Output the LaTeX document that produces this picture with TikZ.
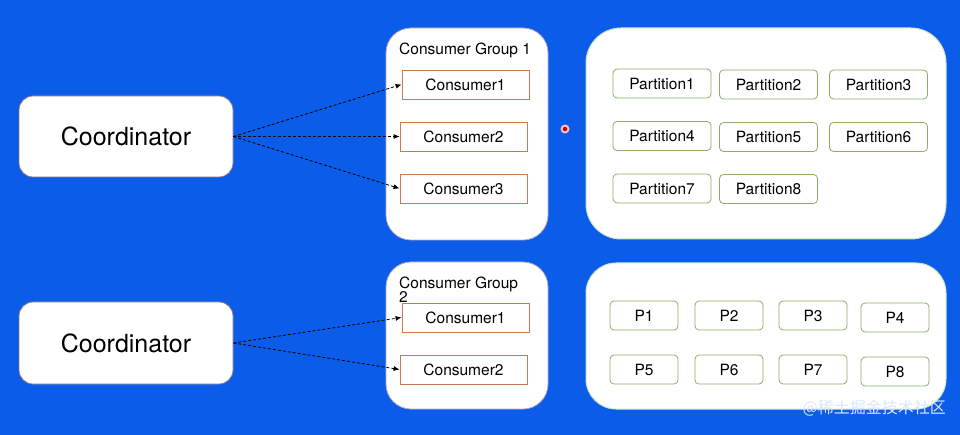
\documentclass[tikz,border=0pt]{standalone}
\usepackage{fontspec}
\setmainfont{TeX Gyre Heros}
\newfontfamily\cjk{Noto Sans CJK SC}
\usetikzlibrary{arrows.meta}
\definecolor{bgblue}{HTML}{0B5CE8}
\definecolor{consborder}{HTML}{C47A52}
\definecolor{partborder}{HTML}{8CAE64}
\definecolor{coordborder}{HTML}{8A7A86}
\definecolor{panelborder}{HTML}{C8E4CC}
\definecolor{grpborder}{HTML}{B8A8C8}
\tikzset{
  coordbox/.style={draw=coordborder, line width=0.8pt, fill=white, rounded corners=14pt, minimum width=214pt, minimum height=81pt, inner sep=0pt, font=\fontsize{25}{28}\selectfont},
  grpbox/.style={draw=grpborder, line width=0.8pt, fill=white, rounded corners=25pt, minimum width=162pt, inner sep=0pt},
  panelbox/.style={draw=panelborder, line width=1pt, fill=white, inner sep=0pt, minimum width=360pt},
  consbox/.style={draw=consborder, line width=0.8pt, fill=white, minimum width=127pt, minimum height=29pt, inner sep=0pt, font=\fontsize{15.5}{18}\selectfont},
  partbox/.style={draw=partborder, line width=0.8pt, fill=white, rounded corners=4pt, minimum width=98pt, minimum height=29pt, inner sep=0pt, font=\fontsize{15.5}{18}\selectfont},
  pbox/.style={draw=partborder, line width=0.8pt, fill=white, rounded corners=4pt, minimum width=68pt, minimum height=29pt, inner sep=0pt, font=\fontsize{15.5}{18}\selectfont},
  grptitle/.style={inner sep=0pt, font=\fontsize{15.5}{16}\selectfont, align=left},
  conn/.style={draw=black, line width=0.8pt, dash pattern=on 3pt off 2pt, -{Latex[length=6pt,width=5pt]}},
}
\begin{document}
\begin{tikzpicture}[x=1pt,y=-1pt]
\fill[bgblue] (0,0) rectangle (960,435);
\useasboundingbox (0,0) rectangle (960,435);

% coordinators
\node[coordbox] (co1) at (126,136.5) {Coordinator};
\node[coordbox, minimum height=82pt] (co2) at (126,343) {Coordinator};

% consumer groups
\node[grpbox, minimum height=212pt] (g1) at (467,134) {};
\node[grpbox, minimum height=147pt] (g2) at (467,335.5) {};
\node[grptitle, anchor=west] (g1t) at (399,50) {Consumer Group 1};
\node[grptitle, anchor=north west] (g2t) at (399,277) {Consumer Group\\[-2pt]2};

\node[consbox] (g1c1) at (465.5,84.5) {Consumer1};
\node[consbox] (g1c2) at (463.5,136.5) {Consumer2};
\node[consbox] (g1c3) at (463.5,188.5) {Consumer3};
\node[consbox] (g2c1) at (465.5,317.5) {Consumer1};
\node[consbox] (g2c2) at (463.5,369.5) {Consumer2};

% partition panels
\node[panelbox, rounded corners=35pt, minimum height=211pt] (pp1) at (766,133.5) {};
\node[panelbox, rounded corners=30pt, minimum height=146pt] (pp2) at (766,336) {};

\node[partbox] (pa1) at (662,83.5) {Partition1};
\node[partbox] (pa2) at (768.5,84.5) {Partition2};
\node[partbox] (pa3) at (878.5,84.5) {Partition3};
\node[partbox] (pa4) at (662,136) {Partition4};
\node[partbox] (pa5) at (768.5,137) {Partition5};
\node[partbox] (pa6) at (878.5,137) {Partition6};
\node[partbox] (pa7) at (662,188.5) {Partition7};
\node[partbox] (pa8) at (768.5,189) {Partition8};

\node[pbox] (p1) at (644,315.5) {P1};
\node[pbox] (p2) at (729,315.5) {P2};
\node[pbox] (p3) at (813,315.5) {P3};
\node[pbox] (p4) at (895,317.5) {P4};
\node[pbox] (p5) at (644,369.5) {P5};
\node[pbox] (p6) at (729,369.5) {P6};
\node[pbox] (p7) at (813,369.5) {P7};
\node[pbox] (p8) at (895,371.5) {P8};

% connectors
\draw[conn] (co1.east) -- (g1c1.west);
\draw[conn] (co1.east) -- (g1c2.west);
\draw[conn] (co1.east) -- (g1c3.west);
\draw[conn] (co2.east) -- (g2c1.west);
\draw[conn] (co2.east) -- (g2c2.west);

% red dot
\node[circle, fill=red!25, inner sep=0pt, minimum size=9pt] (dothalo) at (565,129) {};
\node[circle, fill=red!80!black, inner sep=0pt, minimum size=4.5pt] (dot) at (565,129) {};

% credit
\node[anchor=east, inner sep=0pt, text=white!85!bgblue, font=\cjk\fontsize{16}{18}\selectfont] (credit) at (946,408) {@稀土掘金技术社区};
\end{tikzpicture}
\end{document}
